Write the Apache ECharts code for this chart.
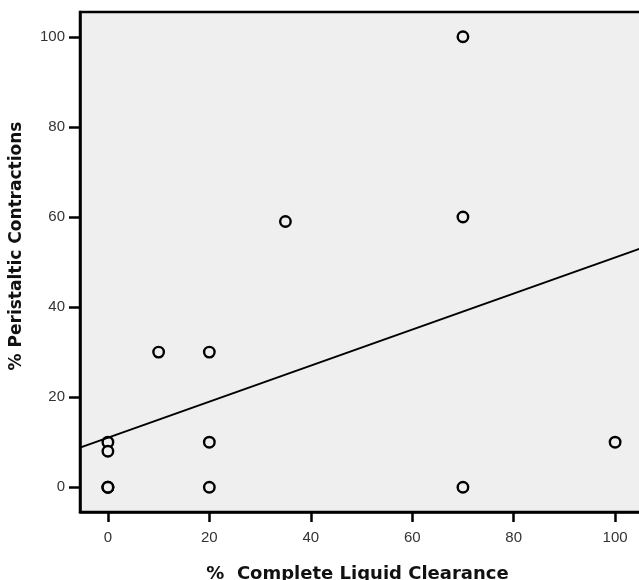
<!DOCTYPE html>
<html>
<head>
<meta charset="utf-8">
<script src="https://cdn.jsdelivr.net/npm/echarts@6/dist/echarts.min.js"></script>
<style>
  html, body { margin: 0; padding: 0; background: #fff; }
  #chart { width: 639px; height: 580px; }
</style>
</head>
<body>
<div id="chart"></div>
<script>
// Percent complete liquid clearance (x) vs percent peristaltic contractions (y)
const clearance   = [70, 70, 35, 10, 20, 0, 0, 0, 0, 0, 20, 20, 70, 100];
const peristaltic = [100, 60, 59, 30, 30, 10, 8, 0, 0, 0, 10, 0, 0, 10];

// Fitted regression line, end points at the axis limits
const fitX = [-5.5, 105.5];
const fitY = [8.8, 53.2];

const xTicks = [0, 20, 40, 60, 80, 100];
const yTicks = [0, 20, 40, 60, 80, 100];

const points = clearance.map((x, i) => [x, peristaltic[i]]);
const fitLine = fitX.map((x, i) => [x, fitY[i]]);

const labelFont = '"Liberation Sans", Arial, Helvetica, sans-serif';
const titleFont = '"DejaVu Sans", Verdana, sans-serif';

const chart = echarts.init(document.getElementById('chart'), null, { renderer: 'canvas' });

const axisCommon = {
  type: 'value',
  min: -5.5,
  max: 105.5,
  splitLine: { show: false },
  axisLine: { show: true, onZero: false, lineStyle: { color: '#000', width: 2.5 } },
  nameLocation: 'middle',
  nameTextStyle: { fontFamily: titleFont, fontSize: 17, fontWeight: 'bold', color: '#111' }
};

chart.setOption({
  animation: false,
  backgroundColor: '#fff',
  grid: {
    left: 80, right: -4, top: 12, bottom: 68,
    show: true,
    backgroundColor: '#efefef',
    borderColor: '#000',
    borderWidth: 2.5,
    outerBoundsMode: 'none'
  },
  xAxis: Object.assign({}, axisCommon, {
    name: '%  Complete Liquid Clearance',
    nameGap: 53,
    nameTextStyle: Object.assign({}, axisCommon.nameTextStyle, { fontSize: 18, padding: [0, 8, 0, 0] }),
    axisTick: { show: true, customValues: xTicks, length: 10, lineStyle: { color: '#000', width: 2.5 } },
    axisLabel: { customValues: xTicks, margin: 18, fontFamily: labelFont, fontSize: 15, color: '#333' }
  }),
  yAxis: Object.assign({}, axisCommon, {
    name: '% Peristaltic Contractions',
    nameGap: 55,
    nameTextStyle: Object.assign({}, axisCommon.nameTextStyle, { padding: [0, 0, 0, 32] }),
    axisTick: { show: true, customValues: yTicks, length: 11, lineStyle: { color: '#000', width: 2.5 } },
    axisLabel: { customValues: yTicks, margin: 15, fontFamily: labelFont, fontSize: 15, color: '#333' }
  }),
  series: [
    {
      type: 'scatter',
      data: points,
      symbol: 'circle',
      symbolSize: 10.5,
      itemStyle: { color: '#efefef', borderColor: '#000', borderWidth: 2.4, opacity: 1 },
      z: 2
    },
    {
      type: 'line',
      data: fitLine,
      symbol: 'none',
      lineStyle: { color: '#000', width: 2 },
      z: 3
    }
  ]
});
</script>
</body>
</html>
